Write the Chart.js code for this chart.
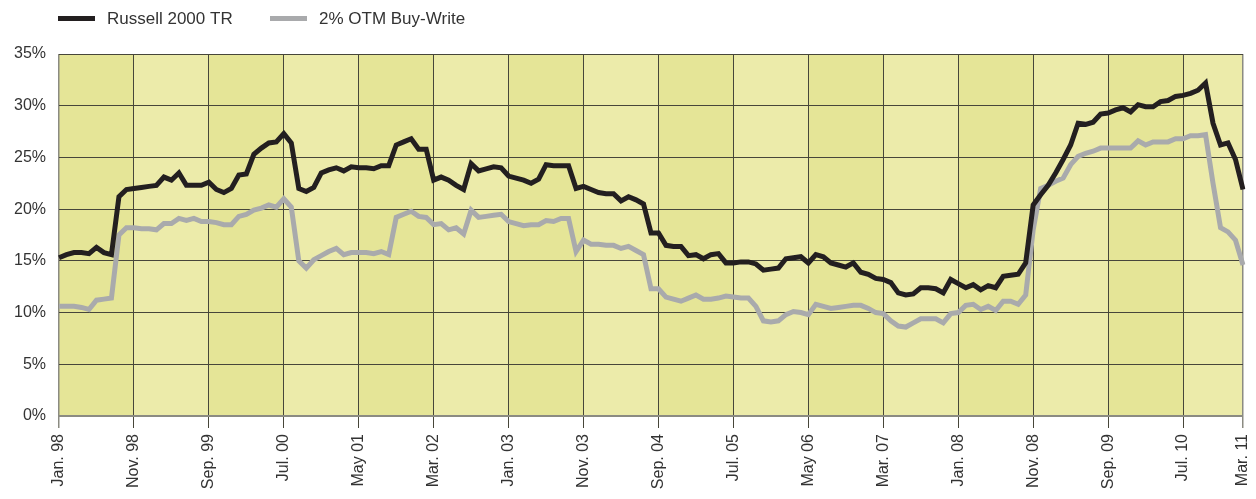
<!DOCTYPE html>
<html>
<head>
<meta charset="utf-8">
<title>Russell 2000 TR vs 2% OTM Buy-Write</title>
<script src="https://cdn.jsdelivr.net/npm/chart.js@4"></script>
<style>
  html, body { margin: 0; padding: 0; background: #fff; }
  #chart { display: block; }
</style>
</head>
<body>
<canvas id="chart" width="1256" height="499"></canvas>
<script>
// Monthly values, Jan. 98 to Mar. 11 (159 months), in percent
const seriesNames = ['Russell 2000 TR', '2% OTM Buy-Write'];

const russell = [
  15.3, 15.6, 15.8, 15.8, 15.7, 16.3, 15.8, 15.6, 21.2, 21.9,
  22.0, 22.1, 22.2, 22.3, 23.1, 22.8, 23.5, 22.3, 22.3, 22.3,
  22.6, 21.9, 21.6, 22.0, 23.3, 23.4, 25.3, 25.9, 26.4, 26.5,
  27.3, 26.4, 22.0, 21.7, 22.1, 23.5, 23.8, 24.0, 23.7, 24.1,
  24.0, 24.0, 23.9, 24.2, 24.2, 26.2, 26.5, 26.8, 25.8, 25.8,
  22.8, 23.1, 22.8, 22.3, 21.9, 24.4, 23.7, 23.9, 24.1, 24.0,
  23.2, 23.0, 22.8, 22.5, 22.9, 24.3, 24.2, 24.2, 24.2, 22.0,
  22.2, 21.9, 21.6, 21.5, 21.5, 20.8, 21.2, 20.9, 20.5, 17.7,
  17.7, 16.5, 16.4, 16.4, 15.5, 15.6, 15.2, 15.6, 15.7, 14.8,
  14.8, 14.9, 14.9, 14.7, 14.1, 14.2, 14.3, 15.2, 15.3, 15.4,
  14.8, 15.6, 15.4, 14.8, 14.6, 14.4, 14.8, 13.9, 13.7, 13.3,
  13.2, 12.9, 11.9, 11.7, 11.8, 12.4, 12.4, 12.3, 11.9, 13.2,
  12.8, 12.4, 12.7, 12.2, 12.6, 12.4, 13.5, 13.6, 13.7, 14.8,
  20.4, 21.4, 22.3, 23.5, 24.8, 26.2, 28.3, 28.2, 28.4, 29.2,
  29.3, 29.6, 29.8, 29.4, 30.1, 29.9, 29.9, 30.4, 30.5, 30.9,
  31.0, 31.2, 31.5, 32.2, 28.3, 26.2, 26.4, 24.8, 21.9
];

const buyWrite = [
  10.6, 10.6, 10.6, 10.5, 10.3, 11.2, 11.3, 11.4, 17.5, 18.2,
  18.2, 18.1, 18.1, 18.0, 18.6, 18.6, 19.1, 18.9, 19.1, 18.8,
  18.8, 18.7, 18.5, 18.5, 19.3, 19.5, 19.9, 20.1, 20.4, 20.2,
  21.0, 20.2, 15.0, 14.3, 15.1, 15.5, 15.9, 16.2, 15.6, 15.8,
  15.8, 15.8, 15.7, 15.9, 15.6, 19.2, 19.5, 19.8, 19.3, 19.2,
  18.5, 18.6, 18.0, 18.2, 17.6, 19.9, 19.2, 19.3, 19.4, 19.5,
  18.8, 18.6, 18.4, 18.5, 18.5, 18.9, 18.8, 19.1, 19.1, 15.9,
  17.0, 16.6, 16.6, 16.5, 16.5, 16.2, 16.4, 16.0, 15.6, 12.3,
  12.3, 11.5, 11.3, 11.1, 11.4, 11.7, 11.3, 11.3, 11.4, 11.6,
  11.5, 11.4, 11.4, 10.6, 9.2, 9.1, 9.2, 9.8, 10.1, 10.0,
  9.8, 10.8, 10.6, 10.4, 10.5, 10.6, 10.7, 10.7, 10.4, 10.0,
  9.9, 9.2, 8.7, 8.6, 9.0, 9.4, 9.4, 9.4, 9.0, 9.9,
  10.0, 10.7, 10.8, 10.3, 10.6, 10.2, 11.1, 11.1, 10.8, 11.7,
  18.0, 22.0, 22.3, 22.7, 23.0, 24.3, 25.1, 25.4, 25.6, 25.9,
  25.9, 25.9, 25.9, 25.9, 26.6, 26.2, 26.5, 26.5, 26.5, 26.8,
  26.8, 27.1, 27.1, 27.2, 22.5, 18.2, 17.8, 17.0, 14.6
];

// Labelled months on the x axis (index into the monthly series)
const tickIndex = [0, 10, 20, 30, 40, 50, 60, 70, 80, 90, 100, 110, 120, 130, 140, 150, 158];
const tickLabels = ['Jan. 98', 'Nov. 98', 'Sep. 99', 'Jul. 00', 'May 01', 'Mar. 02', 'Jan. 03', 'Nov. 03',
  'Sep. 04', 'Jul. 05', 'May 06', 'Mar. 07', 'Jan. 08', 'Nov. 08', 'Sep. 09', 'Jul. 10', 'Mar. 11'];

const yTicks = [0, 5, 10, 15, 20, 25, 30, 35];

// Month categories, Jan 1998 onward
const months = [];
for (let i = 0; i < russell.length; i++) {
  const y = 1998 + Math.floor(i / 12);
  const m = (i % 12) + 1;
  months.push(y + '-' + String(m).padStart(2, '0'));
}

const colors = {
  russell: '#231f20',
  buyWrite: '#a9aaac',
  bandDark: '#e5e597',
  bandLight: '#ecebaa',
  grid: '#47463a',
  edge: '#8b8b82',
  text: '#333333'
};

const FONT = '"Liberation Sans", Arial, sans-serif';

// Alternating vertical bands behind the grid
const bandPlugin = {
  id: 'bands',
  beforeDraw(chart) {
    const { ctx, chartArea, scales } = chart;
    const x = scales.x;
    ctx.save();
    for (let i = 0; i < tickIndex.length - 1; i++) {
      const x0 = x.getPixelForValue(tickIndex[i]);
      const x1 = x.getPixelForValue(tickIndex[i + 1]);
      ctx.fillStyle = i % 2 === 0 ? colors.bandDark : colors.bandLight;
      ctx.fillRect(x0, chartArea.top, x1 - x0, chartArea.bottom - chartArea.top);
    }
    ctx.restore();
  }
};

// Legend drawn across the top, line swatches like the original
const legendPlugin = {
  id: 'topLegend',
  afterDraw(chart) {
    const { ctx } = chart;
    const starts = [58, 270];
    ctx.save();
    ctx.font = '17px ' + FONT;
    ctx.textBaseline = 'middle';
    chart.data.datasets.forEach((ds, i) => {
      const x = starts[i];
      ctx.fillStyle = ds.borderColor;
      ctx.fillRect(x, 16, 37, 5);
      ctx.fillStyle = colors.text;
      ctx.fillText(ds.label, x + 49, 19);
    });
    ctx.restore();
  }
};

const isEdge = idx => idx === 0 || idx === tickIndex.length - 1;

new Chart(document.getElementById('chart'), {
  type: 'line',
  data: {
    labels: months,
    datasets: [
      {
        label: seriesNames[0],
        data: russell,
        borderColor: colors.russell,
        borderWidth: 5,
        pointRadius: 0,
        tension: 0,
        order: 0
      },
      {
        label: seriesNames[1],
        data: buyWrite,
        borderColor: colors.buyWrite,
        borderWidth: 5,
        pointRadius: 0,
        tension: 0,
        order: 1
      }
    ]
  },
  options: {
    responsive: false,
    animation: false,
    devicePixelRatio: 1,
    layout: { padding: { top: 54, right: 13, left: 0, bottom: 0 } },
    plugins: {
      legend: { display: false },
      tooltip: { enabled: false }
    },
    scales: {
      x: {
        type: 'category',
        offset: false,
        afterBuildTicks(scale) {
          scale.ticks = scale.ticks.filter(t => tickIndex.includes(t.value));
        },
        afterFit(scale) {
          scale.height = 83;
          scale.paddingLeft = 0;
          scale.paddingRight = 0;
        },
        ticks: {
          autoSkip: false,
          minRotation: 90,
          maxRotation: 90,
          padding: 6,
          color: colors.text,
          font: { family: FONT, size: 16 },
          callback: value => tickLabels[tickIndex.indexOf(value)]
        },
        grid: {
          color: ctx => isEdge(ctx.index) ? colors.edge : colors.grid,
          lineWidth: ctx => isEdge(ctx.index) ? 1.5 : 1,
          tickLength: 12,
          drawOnChartArea: true
        },
        border: { color: colors.edge, width: 2 }
      },
      y: {
        min: 0,
        max: 35,
        afterBuildTicks(scale) {
          scale.ticks = yTicks.map(v => ({ value: v }));
        },
        afterFit(scale) { scale.width = 59; },
        ticks: {
          padding: 13,
          color: colors.text,
          font: { family: FONT, size: 16 },
          callback: v => v + '%'
        },
        grid: { color: colors.grid, lineWidth: 1, drawTicks: false },
        border: { display: false }
      }
    }
  },
  plugins: [bandPlugin, legendPlugin]
});
</script>
</body>
</html>
